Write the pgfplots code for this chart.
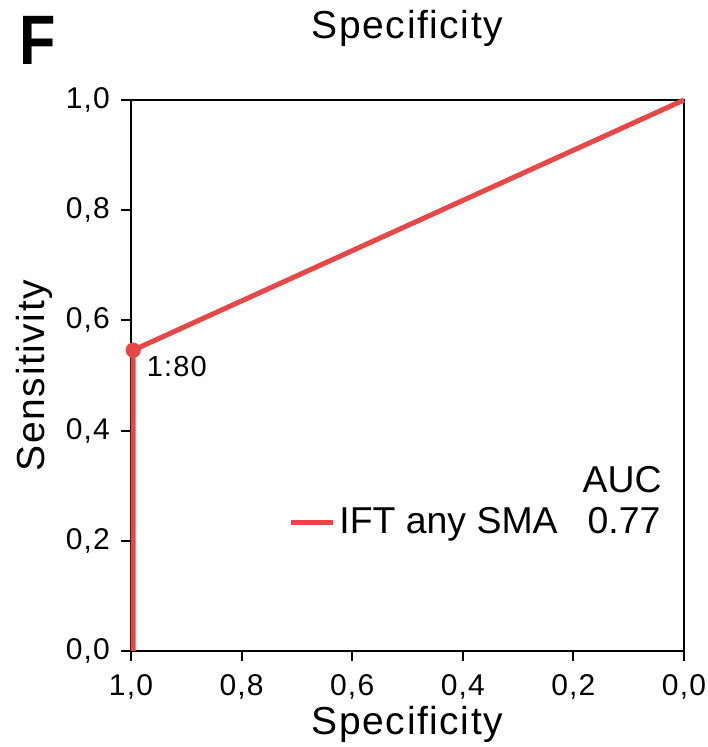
\documentclass[border=0pt]{standalone}
\usepackage{pgfplots}
\pgfplotsset{compat=1.18}
\usepackage{fontspec}
\setmainfont{Liberation Sans}
\newfontfamily\lblfont[LetterSpace=4]{Liberation Sans}
\definecolor{rocred}{RGB}{230,72,74}
\begin{document}
\begin{tikzpicture}
\useasboundingbox (-65.5pt,-48pt) rectangle (288pt,325.5pt);
\begin{axis}[
  name=ax, at={(0,0)}, anchor=south west,
  scale only axis, width=276.5pt, height=275.5pt,
  xmin=0, xmax=1, ymin=0, ymax=1, x dir=reverse,
  xtick={0,0.2,...,1.0}, ytick={0,0.2,...,1.0},
  xtick pos=bottom, ytick pos=left, tick align=outside,
  major tick length=5pt,
  axis line style={line width=1pt}, every tick/.style={line width=1pt, black},
  /pgf/number format/assume math mode=true,
  /pgf/number format/.cd, fixed, fixed zerofill, precision=1, use comma, /pgfplots/.cd,
  tick label style={font=\lblfont\fontsize{15}{16}\selectfont},
  xticklabel style={yshift=-3pt}, yticklabel style={xshift=-2pt},
  xlabel={Specificity}, ylabel={Sensitivity},
  label style={font=\lblfont\fontsize{19.5}{21}\selectfont},
  xlabel style={at={(0.5,0)}, anchor=center, yshift=-36.5pt},
  ylabel style={at={(0,0.5)}, anchor=center, xshift=0pt, yshift=48.5pt},
  legend style={draw=none, fill=none, inner sep=0pt, at={(0.284,0.234)}, anchor=west,
    font=\fontsize{18.7}{20}\selectfont},
  legend image code/.code={\draw[line width=2.5pt, rocred] (0pt,0pt) -- (21pt,0pt);},
  clip=false,
]
\addplot[rocred, line width=2.5pt, line join=round] coordinates {(0.996,0) (0.996,0.546) (0,1)};
\addlegendentry{IFT any SMA\hspace{15pt}0.77}
\addplot[rocred, only marks, mark=*, mark size=3.6pt, forget plot] coordinates {(0.996,0.546)};
\node[anchor=north west, font=\lblfont\fontsize{14.5}{16}\selectfont, inner sep=0pt] at (axis cs:0.972,0.536) {1:80};
\end{axis}
\node[font=\lblfont\fontsize{19.5}{21}\selectfont] at (138.25pt,311.5pt) {Specificity};
\node[anchor=east, font=\fontsize{18.7}{20}\selectfont, inner sep=0pt] at (265.5pt,85.5pt) {AUC};
\node[font=\fontsize{35}{36}\selectfont\bfseries] at (-46.5pt,305.5pt) {\scalebox{0.85}[1]{F}};
\end{tikzpicture}
\end{document}
